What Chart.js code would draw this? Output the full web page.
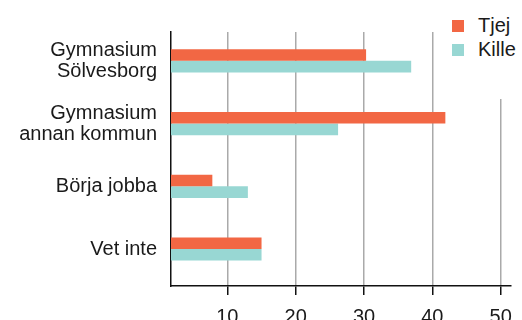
<!DOCTYPE html>
<html>
<head>
<meta charset="utf-8">
<script src="https://cdn.jsdelivr.net/npm/chart.js@4"></script>
<style>
    html, body { margin: 0; padding: 0; background: #fff; }
    #wrap { position: relative; width: 522px; height: 320px; }
    #legend {
        position: absolute; left: 445px; top: 0; width: 77px; height: 99px;
        background: #fff; font-family: 'Liberation Sans', Arial, sans-serif;
        font-size: 20px; color: #1a1a1a;
    }
    .item { position: absolute; left: 7px; height: 24px; line-height: 24px; }
    .box { display: inline-block; width: 12px; height: 12px; vertical-align: 0px; margin-right: 14px; }
</style>
</head>
<body>
<div id="wrap">
    <canvas id="chart" width="522" height="320"></canvas>
    <div id="legend"></div>
</div>
<script>
(function() {
    'use strict';

    // Data
    const categories = [['Gymnasium', 'Sölvesborg'], ['Gymnasium', 'annan kommun'], 'Börja jobba', 'Vet inte'];
    const tjej = [30.3, 41.9, 7.8, 15.0];
    const kille = [36.9, 26.2, 13.0, 15.0];
    const xTicks = [10, 20, 30, 40, 50];

    const tjejColor = '#f26744';
    const killeColor = '#98d7d3';
    const font = "'Liberation Sans', Arial, sans-serif";

    // category index on a linear scale so the rows can sit like the original
    function toPoints(values) {
        return values.map(function(v, i) { return { x: v, y: i }; });
    }

    const ctx = document.getElementById('chart');
    new Chart(ctx, {
        type: 'bar',
        data: {
            datasets: [{
                label: 'Tjej',
                data: toPoints(tjej),
                backgroundColor: tjejColor,
                categoryPercentage: 0.37,
                barPercentage: 1
            }, {
                label: 'Kille',
                data: toPoints(kille),
                backgroundColor: killeColor,
                categoryPercentage: 0.37,
                barPercentage: 1
            }]
        },
        options: {
            indexAxis: 'y',
            responsive: false,
            animation: false,
            layout: { padding: { top: 32, right: 6, left: 0, bottom: 0 } },
            plugins: {
                legend: { display: false },
                tooltip: { enabled: false }
            },
            scales: {
                x: {
                    type: 'linear',
                    min: 1.75,
                    max: 51.4,
                    afterBuildTicks: function(scale) {
                        scale.ticks = xTicks.map(function(v) { return { value: v }; });
                    },
                    afterFit: function(scale) { scale.height = 34; },
                    grid: {
                        color: '#aaaaaa',
                        lineWidth: 1.5,
                        tickColor: '#111',
                        tickLength: 9
                    },
                    border: { display: true, color: '#111', width: 1.5 },
                    ticks: {
                        color: '#1a1a1a',
                        padding: 10,
                        font: { family: font, size: 20 }
                    }
                },
                y: {
                    type: 'linear',
                    reverse: true,
                    offset: false,
                    min: -0.46,
                    max: 3.59,
                    afterBuildTicks: function(scale) {
                        scale.ticks = categories.map(function(c, i) { return { value: i }; });
                    },
                    afterFit: function(scale) { scale.width = 171; },
                    grid: { display: false },
                    border: { display: true, color: '#111', width: 1.5 },
                    ticks: {
                        color: '#1a1a1a',
                        padding: 6,
                        font: { family: font, size: 20, lineHeight: 1.05 },
                        callback: function(value) { return categories[value]; }
                    }
                }
            }
        }
    });

    // HTML legend in the top right corner
    const legend = document.getElementById('legend');
    [['Tjej', tjejColor, 13], ['Kille', killeColor, 37]].forEach(function(item) {
        const div = document.createElement('div');
        div.className = 'item';
        div.style.top = item[2] + 'px';
        div.innerHTML = '<span class="box" style="background:' + item[1] + '"></span>' + item[0];
        legend.appendChild(div);
    });
})();
</script>
</body>
</html>
